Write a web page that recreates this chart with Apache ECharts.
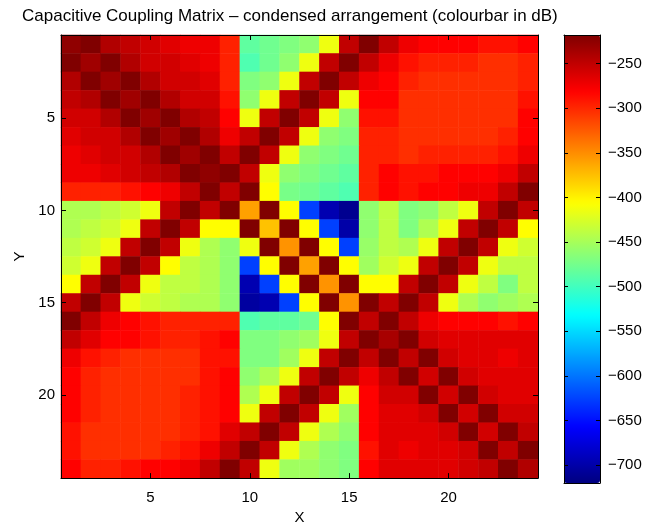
<!DOCTYPE html>
<html><head><meta charset="utf-8">
<script src="https://cdn.jsdelivr.net/npm/echarts@6/dist/echarts.min.js"></script>
<style>html,body{margin:0;padding:0;background:#fff}#c{width:648px;height:530px}</style>
</head><body><div id="c"></div>
<script>
const xCategories = ['1','2','3','4','5','6','7','8','9','10','11','12','13','14','15','16','17','18','19','20','21','22','23','24'];
const yCategories = ['1','2','3','4','5','6','7','8','9','10','11','12','13','14','15','16','17','18','19','20','21','22','23','24'];

// coupling in dB, one array per Y row (Y = 1 at top), X = 1..24
const rowY01 = [-226,-218,-242,-250,-258,-266,-273,-273,-297,-485,-477,-469,-461,-414,-250,-218,-250,-273,-281,-281,-281,-289,-289,-281];
const rowY02 = [-218,-234,-218,-242,-258,-258,-266,-273,-297,-493,-477,-461,-414,-250,-218,-250,-273,-289,-297,-297,-297,-304,-304,-297];
const rowY03 = [-242,-218,-234,-218,-242,-258,-258,-266,-297,-469,-461,-414,-250,-218,-250,-273,-281,-297,-304,-304,-304,-304,-304,-297];
const rowY04 = [-250,-242,-218,-234,-218,-242,-258,-258,-289,-461,-414,-250,-218,-250,-414,-281,-281,-304,-304,-304,-304,-304,-304,-289];
const rowY05 = [-258,-258,-242,-218,-234,-218,-242,-250,-281,-414,-250,-218,-250,-414,-461,-289,-289,-304,-304,-304,-304,-304,-304,-281];
const rowY06 = [-266,-258,-258,-242,-218,-234,-218,-242,-273,-250,-218,-250,-414,-461,-469,-297,-297,-304,-304,-304,-304,-304,-297,-281];
const rowY07 = [-273,-266,-258,-258,-242,-218,-234,-218,-250,-218,-250,-414,-461,-469,-477,-297,-297,-304,-297,-297,-297,-297,-289,-273];
const rowY08 = [-273,-273,-266,-258,-250,-242,-218,-226,-218,-250,-414,-461,-469,-477,-485,-297,-281,-289,-289,-281,-281,-281,-273,-250];
const rowY09 = [-297,-297,-297,-289,-281,-273,-250,-218,-250,-218,-406,-473,-477,-485,-493,-297,-281,-289,-281,-281,-273,-273,-250,-218];
const rowY10 = [-446,-446,-438,-430,-414,-250,-218,-250,-218,-360,-218,-406,-626,-696,-712,-461,-438,-469,-461,-438,-414,-250,-218,-250];
const rowY11 = [-446,-438,-430,-414,-250,-218,-250,-406,-406,-218,-376,-218,-406,-626,-700,-461,-438,-469,-446,-414,-250,-218,-250,-406];
const rowY12 = [-438,-430,-414,-250,-218,-250,-414,-446,-461,-414,-218,-353,-218,-406,-626,-457,-438,-446,-414,-250,-218,-250,-414,-430];
const rowY13 = [-430,-414,-250,-218,-250,-406,-438,-446,-461,-626,-406,-218,-360,-218,-406,-453,-430,-414,-250,-218,-250,-414,-438,-438];
const rowY14 = [-406,-250,-218,-250,-414,-438,-438,-446,-461,-696,-626,-406,-218,-353,-218,-406,-406,-250,-218,-250,-414,-438,-469,-438];
const rowY15 = [-250,-218,-250,-414,-430,-438,-446,-446,-461,-704,-696,-626,-406,-218,-353,-218,-250,-218,-250,-414,-446,-461,-453,-446];
const rowY16 = [-218,-250,-273,-281,-289,-297,-297,-297,-297,-493,-485,-485,-477,-406,-218,-250,-218,-250,-273,-281,-281,-281,-289,-281];
const rowY17 = [-250,-266,-281,-281,-289,-297,-297,-289,-281,-469,-469,-461,-453,-414,-250,-218,-238,-218,-258,-266,-266,-266,-266,-266];
const rowY18 = [-273,-289,-297,-304,-304,-304,-304,-289,-289,-469,-469,-453,-414,-250,-218,-250,-218,-250,-218,-258,-266,-266,-273,-266];
const rowY19 = [-281,-297,-304,-304,-304,-304,-304,-289,-281,-461,-446,-414,-250,-218,-250,-273,-250,-218,-258,-218,-258,-266,-266,-266];
const rowY20 = [-281,-297,-304,-304,-304,-304,-297,-289,-281,-446,-414,-250,-218,-250,-414,-281,-258,-258,-218,-258,-218,-258,-266,-266];
const rowY21 = [-281,-297,-304,-304,-304,-304,-297,-289,-281,-414,-250,-218,-250,-414,-453,-281,-266,-266,-258,-218,-258,-218,-258,-258];
const rowY22 = [-289,-304,-304,-304,-304,-304,-297,-289,-266,-250,-218,-250,-414,-446,-461,-281,-266,-266,-266,-258,-218,-258,-218,-250];
const rowY23 = [-289,-304,-304,-304,-304,-297,-289,-273,-250,-218,-250,-414,-446,-461,-469,-289,-266,-273,-266,-266,-258,-218,-250,-218];
const rowY24 = [-281,-297,-297,-289,-281,-281,-273,-250,-218,-250,-414,-453,-453,-461,-469,-281,-266,-266,-266,-266,-258,-250,-218,-242];

const matrixRows = [rowY01,rowY02,rowY03,rowY04,rowY05,rowY06,rowY07,rowY08,rowY09,rowY10,rowY11,rowY12,
                    rowY13,rowY14,rowY15,rowY16,rowY17,rowY18,rowY19,rowY20,rowY21,rowY22,rowY23,rowY24];

const axisTickLabels = ['5','10','15','20'];
const colorbarTicks = [-700,-650,-600,-550,-500,-450,-400,-350,-300,-250];
const colorMin = -720;
const colorMax = -218;
const jetColors = ['#000080','#0000ff','#0080ff','#00ffff','#80ff80','#ffff00','#ff8000','#ff0000','#800000'];

const FONT = "'Liberation Sans', Arial, Helvetica, sans-serif";

const heatData = [];
matrixRows.forEach((row, yi) => row.forEach((v, xi) => heatData.push([xi, yi, v])));

const showTick = (idx, val) => axisTickLabels.indexOf(String(val)) >= 0;
const blackLine = { show: true, onZero: false, lineStyle: { color: '#000', width: 1 } };
const labelStyle = { fontSize: 15, color: '#000', fontFamily: FONT };

const chart = echarts.init(document.getElementById('c'), null, { renderer: 'canvas' });
chart.setOption({
  backgroundColor: '#fff',
  animation: false,
  title: {
    text: 'Capacitive Coupling Matrix \u2013 condensed arrangement (colourbar in dB)',
    left: 22, top: 8, padding: 0,
    textStyle: { fontSize: 17, fontWeight: 'normal', color: '#000', fontFamily: FONT }
  },
  grid: [
    { left: 61, top: 35, width: 477, height: 448, containLabel: false },
    { left: 564, top: 35, width: 36, height: 448, containLabel: false }
  ],
  xAxis: [
    { gridIndex: 0, type: 'category', data: xCategories, position: 'bottom', z: 10,
      axisLine: blackLine,
      axisTick: { show: true, inside: true, length: 5, alignWithLabel: true, interval: showTick, lineStyle: { color: '#000' } },
      axisLabel: Object.assign({ interval: showTick, margin: 12 }, labelStyle),
      splitLine: { show: false },
      name: 'X', nameLocation: 'middle', nameGap: 30, nameTextStyle: labelStyle },
    { gridIndex: 0, type: 'category', data: xCategories, position: 'top', z: 10,
      axisLine: blackLine,
      axisTick: { show: true, inside: true, length: 5, alignWithLabel: true, interval: showTick, lineStyle: { color: '#000' } },
      axisLabel: { show: false }, splitLine: { show: false } },
    { gridIndex: 1, type: 'value', min: 0, max: 1, position: 'bottom', z: 10,
      axisLine: blackLine, axisTick: { show: false }, axisLabel: { show: false }, splitLine: { show: false } },
    { gridIndex: 1, type: 'value', min: 0, max: 1, position: 'top', z: 10,
      axisLine: blackLine, axisTick: { show: false }, axisLabel: { show: false }, splitLine: { show: false } }
  ],
  yAxis: [
    { gridIndex: 0, type: 'category', data: yCategories, inverse: true, position: 'left', z: 10,
      axisLine: blackLine,
      axisTick: { show: true, inside: true, length: 5, alignWithLabel: true, interval: showTick, lineStyle: { color: '#000' } },
      axisLabel: Object.assign({ interval: showTick, margin: 6 }, labelStyle),
      splitLine: { show: false },
      name: 'Y', nameLocation: 'middle', nameGap: 34, nameRotate: 90, nameTextStyle: labelStyle },
    { gridIndex: 0, type: 'category', data: yCategories, inverse: true, position: 'right', z: 10,
      axisLine: blackLine,
      axisTick: { show: true, inside: true, length: 5, alignWithLabel: true, interval: showTick, lineStyle: { color: '#000' } },
      axisLabel: { show: false }, splitLine: { show: false } },
    { gridIndex: 1, type: 'value', min: colorMin, max: colorMax, position: 'right', z: 10,
      axisLine: blackLine,
      axisTick: { show: true, inside: true, length: 4, customValues: colorbarTicks, lineStyle: { color: '#000' } },
      axisLabel: Object.assign({ customValues: colorbarTicks, margin: 8,
        formatter: v => (v < 0 ? '\u2212' + Math.abs(v) : String(v)) }, labelStyle),
      splitLine: { show: false } },
    { gridIndex: 1, type: 'value', min: colorMin, max: colorMax, position: 'left', z: 10,
      axisLine: blackLine,
      axisTick: { show: true, inside: true, length: 4, customValues: colorbarTicks, lineStyle: { color: '#000' } },
      axisLabel: { show: false }, splitLine: { show: false } }
  ],
  visualMap: {
    type: 'continuous', min: colorMin, max: colorMax, seriesIndex: 0,
    calculable: false, orient: 'vertical', left: 564, top: 35, itemWidth: 36, itemHeight: 448,
    padding: 0, text: null, showLabel: false, hoverLink: false,
    inRange: { color: jetColors }
  },
  series: [{
    type: 'heatmap', xAxisIndex: 0, yAxisIndex: 0, data: heatData,
    itemStyle: { borderWidth: 0 }, emphasis: { disabled: true }
  }]
});
</script></body></html>
